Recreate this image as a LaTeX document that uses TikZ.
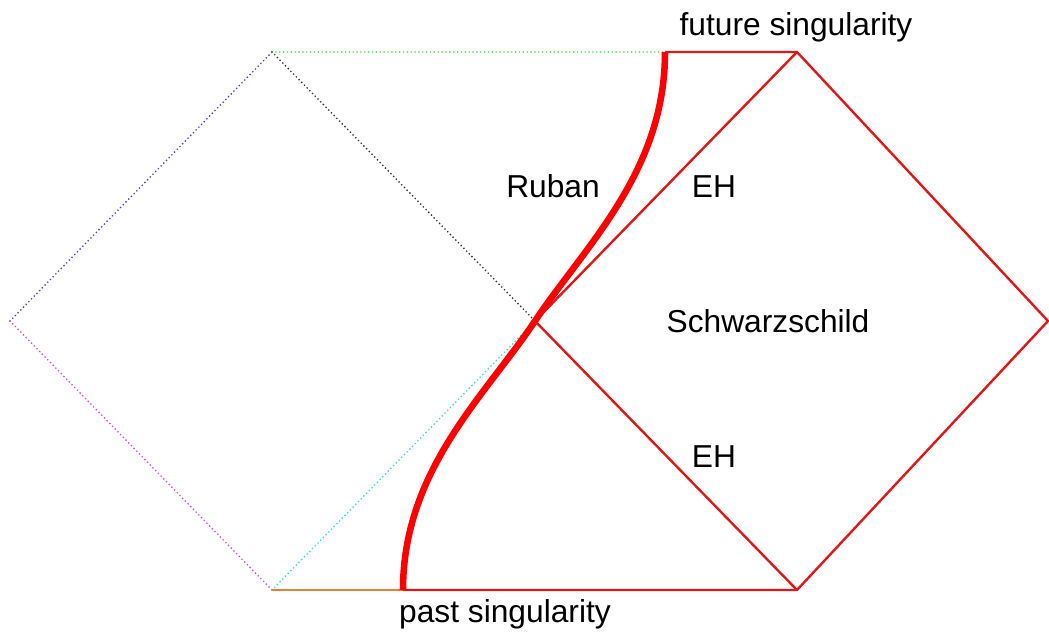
\documentclass[tikz,border=0pt]{standalone}
\usepackage{fontspec}
\setmainfont{Liberation Sans}
\begin{document}
\begin{tikzpicture}[x=0.75pt,y=-0.75pt,
  dotline/.style={line width=1.4pt,line cap=round,dash pattern=on 0pt off 2.9pt},
  redline/.style={draw={rgb,255:red,220;green,25;blue,25},line width=1.8pt,line join=miter},
  worldline/.style={draw={rgb,255:red,255;green,0;blue,0},line width=4.9pt},
  lbl/.style={anchor=base,inner sep=0pt,font=\fontsize{23.8}{28}\selectfont}]
\definecolor{slate}{RGB}{75,75,180}
\definecolor{lgreen}{RGB}{100,215,100}
\definecolor{lmagenta}{RGB}{210,80,210}
\definecolor{lcyan}{RGB}{70,210,215}
\definecolor{lorange}{RGB}{225,130,55}
\useasboundingbox (0,0) rectangle (1049,637);

% vertices of the diagram
\coordinate (L)  at (10,321);
\coordinate (TL) at (272,52);
\coordinate (BL) at (272,590);
\coordinate (C)  at (535,321);
\coordinate (TR) at (797,52);
\coordinate (BR) at (797,590);
\coordinate (R)  at (1048,321);
\coordinate (Rt) at (665,52);
\coordinate (Rb) at (403,590);

% left region, dotted boundaries
\draw[dotline,slate]    (L) -- (TL);
\draw[dotline,lmagenta] (L) -- (BL);
\draw[dotline,lgreen]   (TL) -- (Rt);
\draw[dotline,black!80] (TL) -- (C);
\draw[dotline,lcyan]    (BL) -- (C);
\draw[lorange,line width=1.3pt] (BL) -- (Rb);

% Schwarzschild region and horizons
\draw[redline] (Rt) -- (TR) -- (R) -- (BR) -- (Rb);
\draw[redline] (C) -- (TR);
\draw[redline] (C) -- (BR);

% worldline of the shell
\draw[worldline] (Rt) .. controls (665,172) and (585,246) .. (C)
                      .. controls (485,396) and (403,470) .. (Rb);

% labels
\node[lbl] (fut) at (796,35) {future singularity};
\node[lbl] (past) at (505,622) {past singularity};
\node[lbl] (ruban) at (553,197) {Ruban};
\node[lbl] (eh1) at (714,197) {EH};
\node[lbl] (schw) at (768,332) {Schwarzschild};
\node[lbl] (eh2) at (714,467) {EH};
\end{tikzpicture}
\end{document}
